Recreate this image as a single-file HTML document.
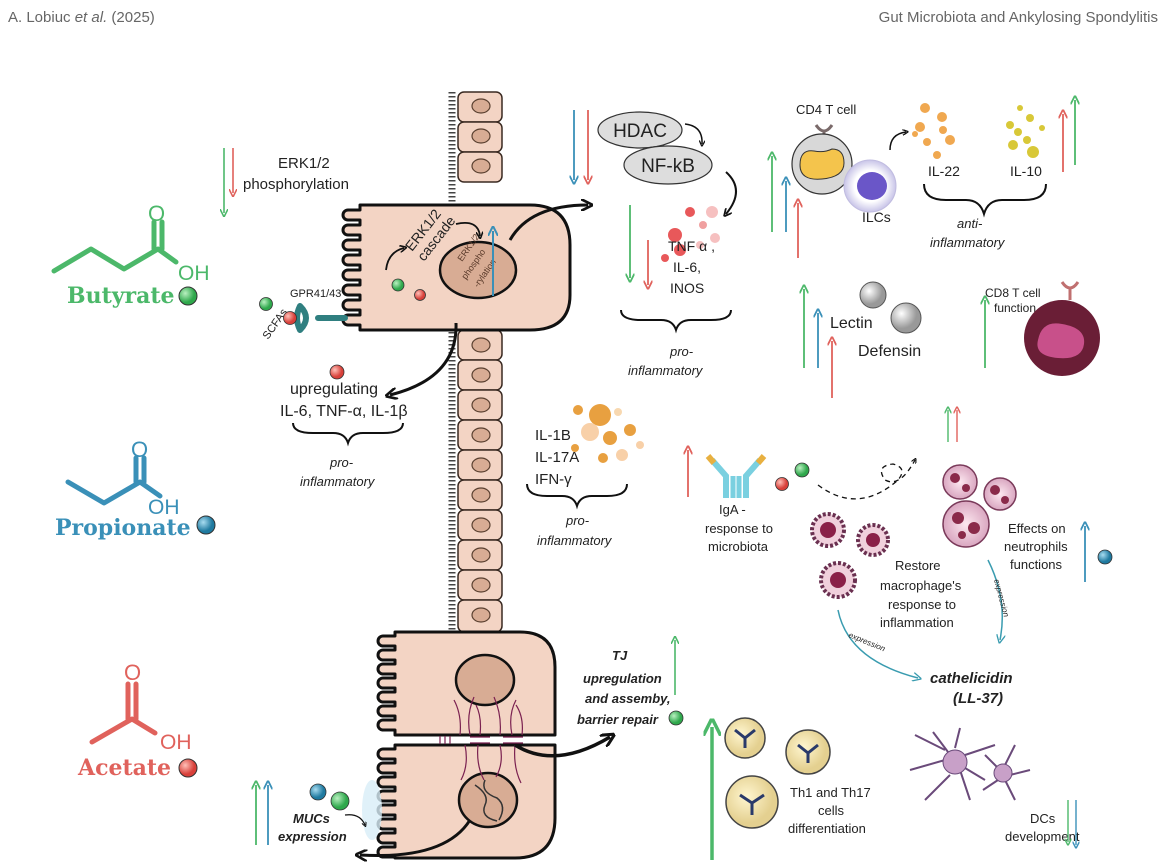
<!DOCTYPE html>
<html><head><meta charset="utf-8"><style>
html,body{margin:0;padding:0;background:#fff}
svg{display:block}
text{font-family:"Liberation Sans","DejaVu Sans",sans-serif;fill:#222}
.it{font-style:italic}
.bi{font-style:italic;font-weight:bold}
.mol{font-family:"DejaVu Serif","Liberation Serif",serif;font-weight:bold}
</style></head><body>
<svg width="1166" height="867" viewBox="0 0 1166 867" xmlns="http://www.w3.org/2000/svg">
<defs>
<marker id="ag" viewBox="0 0 10 10" refX="5" refY="5" markerWidth="5" markerHeight="5" orient="auto-start-reverse"><path d="M0,0 L10,5 L0,10" fill="none" stroke="#4cb86a" stroke-width="2"/></marker>
<marker id="ab" viewBox="0 0 10 10" refX="5" refY="5" markerWidth="5" markerHeight="5" orient="auto-start-reverse"><path d="M0,0 L10,5 L0,10" fill="none" stroke="#3a90b8" stroke-width="2"/></marker>
<marker id="ar" viewBox="0 0 10 10" refX="5" refY="5" markerWidth="5" markerHeight="5" orient="auto-start-reverse"><path d="M0,0 L10,5 L0,10" fill="none" stroke="#e0625c" stroke-width="2"/></marker>
<marker id="ak" viewBox="0 0 10 10" refX="6" refY="5" markerWidth="4" markerHeight="4" orient="auto"><path d="M0,0 L10,5 L0,10" fill="none" stroke="#111" stroke-width="2.2"/></marker>
<marker id="at" viewBox="0 0 10 10" refX="6" refY="5" markerWidth="6" markerHeight="6" orient="auto"><path d="M0,0 L10,5 L0,10" fill="none" stroke="#3a9cb0" stroke-width="1.5"/></marker>
<radialGradient id="gg" cx="35%" cy="35%"><stop offset="0" stop-color="#b9f0c0"/><stop offset="1" stop-color="#2fa84c"/></radialGradient>
<radialGradient id="gr" cx="35%" cy="35%"><stop offset="0" stop-color="#ffc0b8"/><stop offset="1" stop-color="#d8403a"/></radialGradient>
<radialGradient id="gb" cx="35%" cy="35%"><stop offset="0" stop-color="#a8dcf0"/><stop offset="1" stop-color="#1f7aa0"/></radialGradient>
<radialGradient id="gw" cx="35%" cy="35%"><stop offset="0" stop-color="#fff"/><stop offset="1" stop-color="#999"/></radialGradient>
<radialGradient id="gy" cx="40%" cy="40%"><stop offset="0" stop-color="#fff6d0"/><stop offset="1" stop-color="#e4d090"/></radialGradient>
<radialGradient id="gp" cx="50%" cy="50%"><stop offset="0" stop-color="#fde8f0"/><stop offset="1" stop-color="#d9a6c0"/></radialGradient>
<radialGradient id="gi" cx="50%" cy="50%"><stop offset="0.6" stop-color="#fff"/><stop offset="1" stop-color="#c8c4e8"/></radialGradient>
</defs>

<text x="8" y="22" font-size="15" style="fill:#666">A. Lobiuc <tspan class="it">et al.</tspan> (2025)</text>
<text x="1158" y="22" font-size="15" text-anchor="end" style="fill:#666">Gut Microbiota and Ankylosing Spondylitis</text>

<!-- epithelial column -->
<g>
<path d="M452,92 v540" stroke="#444" stroke-width="7" stroke-dasharray="1.5 2.5" fill="none"/>
<g fill="#f3d4c4" stroke="#3a2a22" stroke-width="1.5">
<rect x="458" y="92" width="44" height="30" rx="6"/><rect x="458" y="122" width="44" height="30" rx="6"/><rect x="458" y="152" width="44" height="30" rx="6"/>
<rect x="458" y="330" width="44" height="30" rx="6"/><rect x="458" y="360" width="44" height="30" rx="6"/><rect x="458" y="390" width="44" height="30" rx="6"/>
<rect x="458" y="420" width="44" height="30" rx="6"/><rect x="458" y="450" width="44" height="30" rx="6"/><rect x="458" y="480" width="44" height="30" rx="6"/>
<rect x="458" y="510" width="44" height="30" rx="6"/><rect x="458" y="540" width="44" height="30" rx="6"/><rect x="458" y="570" width="44" height="30" rx="6"/><rect x="458" y="600" width="44" height="32" rx="6"/>
</g>
<g fill="#d8ac94" stroke="#5a4030" stroke-width="1.2">
<ellipse cx="481" cy="106" rx="9" ry="7"/><ellipse cx="481" cy="136" rx="9" ry="7"/><ellipse cx="481" cy="166" rx="9" ry="7"/>
<ellipse cx="481" cy="345" rx="9" ry="7"/><ellipse cx="481" cy="375" rx="9" ry="7"/><ellipse cx="481" cy="405" rx="9" ry="7"/>
<ellipse cx="481" cy="435" rx="9" ry="7"/><ellipse cx="481" cy="465" rx="9" ry="7"/><ellipse cx="481" cy="495" rx="9" ry="7"/>
<ellipse cx="481" cy="525" rx="9" ry="7"/><ellipse cx="481" cy="555" rx="9" ry="7"/><ellipse cx="481" cy="585" rx="9" ry="7"/><ellipse cx="481" cy="615" rx="9" ry="7"/>
</g>
</g>

<!-- big cell -->
<path d="M360,205 H530 Q570,205 570,245 V295 Q570,330 530,330 H360 v-5
h-12 a5,5 0 0 1 0,-10 h12 v-5 h-12 a5,5 0 0 1 0,-10 h12 v-5 h-12 a5,5 0 0 1 0,-10 h12 v-5 h-12 a5,5 0 0 1 0,-10 h12 v-5
h-12 a5,5 0 0 1 0,-10 h12 v-5 h-12 a5,5 0 0 1 0,-10 h12 v-5 h-12 a5,5 0 0 1 0,-10 h12 v-5 h-12 a5,5 0 0 1 0,-10 h12 v-5 Z" fill="#f3d4c4" stroke="#111" stroke-width="3" stroke-linejoin="round"/>
<ellipse cx="478" cy="270" rx="38" ry="28" fill="#d8ac94" stroke="#111" stroke-width="2.5"/>
<text font-size="9" transform="translate(462,262) rotate(-55)" style="fill:#5a3a2a">ERK1/2</text>
<text font-size="9" transform="translate(466,280) rotate(-55)" style="fill:#5a3a2a">phospho</text>
<text font-size="9" transform="translate(478,288) rotate(-55)" style="fill:#5a3a2a">-rylation</text>
<line x1="493" y1="296" x2="493" y2="231" stroke="#3a90b8" stroke-width="2" marker-end="url(#ab)"/>
<text font-size="14" transform="translate(412,252) rotate(-52)">ERK1/2</text>
<text font-size="14" transform="translate(424,262) rotate(-52)">cascade</text>
<path d="M386,270 q2,-18 18,-22" fill="none" stroke="#111" stroke-width="1.8" marker-end="url(#ak)"/>
<path d="M456,224 q22,-5 24,12" fill="none" stroke="#111" stroke-width="1.8" marker-end="url(#ak)"/>
<circle cx="398" cy="285" r="6" fill="url(#gg)" stroke="#333" stroke-width="0.8"/>
<circle cx="420" cy="295" r="5.5" fill="url(#gr)" stroke="#333" stroke-width="0.8"/>
<path d="M510,240 q20,-35 78,-35" fill="none" stroke="#111" stroke-width="3" marker-end="url(#ak)"/>
<path d="M456,323 q2,55 -66,72" fill="none" stroke="#111" stroke-width="3" marker-end="url(#ak)"/>

<!-- receptor -->
<text x="290" y="297" font-size="11">GPR41/43</text>
<path d="M345,318 H318 M300,306 q12,12 0,24 M300,306 q-6,12 0,24" stroke="#2f7f80" stroke-width="6" fill="none" stroke-linecap="round"/>
<text font-size="11" transform="translate(268,340) rotate(-55)">SCFAs</text>
<circle cx="266" cy="304" r="6.5" fill="url(#gg)" stroke="#333" stroke-width="0.8"/>
<circle cx="290" cy="318" r="6.5" fill="url(#gr)" stroke="#333" stroke-width="0.8"/>

<!-- ERK1/2 phosphorylation -->
<line x1="224" y1="148" x2="224" y2="213" stroke="#4cb86a" stroke-width="1.6" marker-end="url(#ag)"/>
<line x1="233" y1="148" x2="233" y2="193" stroke="#e0625c" stroke-width="1.6" marker-end="url(#ar)"/>
<text x="278" y="168" font-size="15">ERK1/2</text>
<text x="243" y="189" font-size="15">phosphorylation</text>

<!-- Butyrate -->
<g stroke="#4cb86a" stroke-width="5" fill="none" stroke-linecap="round" stroke-linejoin="round">
<path d="M54,271 L91,249 L124,269 L158,249 L176,262"/>
<path d="M154,249 V222 M162,249 V222"/>
</g>
<text x="148" y="221" font-size="22" style="fill:#4cb86a">O</text>
<text x="178" y="280" font-size="21" style="fill:#4cb86a">OH</text>
<text x="67" y="303" font-size="22" class="mol" style="fill:#4cb86a">Butyrate</text>
<circle cx="188" cy="296" r="9" fill="url(#gg)" stroke="#333"/>

<!-- Propionate -->
<g stroke="#3a90b8" stroke-width="5" fill="none" stroke-linecap="round" stroke-linejoin="round">
<path d="M68,482 L104,503 L140,482 L160,496"/>
<path d="M136,482 V458 M144,482 V458"/>
</g>
<text x="131" y="457" font-size="22" style="fill:#3a90b8">O</text>
<text x="148" y="514" font-size="21" style="fill:#3a90b8">OH</text>
<text x="55" y="535" font-size="22" class="mol" style="fill:#3a90b8">Propionate</text>
<circle cx="206" cy="525" r="9" fill="url(#gb)" stroke="#333"/>

<!-- Acetate -->
<g stroke="#e0625c" stroke-width="5" fill="none" stroke-linecap="round" stroke-linejoin="round">
<path d="M92,742 L132,719 L155,733"/>
<path d="M128,719 V684 M136,719 V684"/>
</g>
<text x="124" y="680" font-size="22" style="fill:#e0625c">O</text>
<text x="160" y="749" font-size="21" style="fill:#e0625c">OH</text>
<text x="78" y="775" font-size="22" class="mol" style="fill:#e0625c">Acetate</text>
<circle cx="188" cy="768" r="9" fill="url(#gr)" stroke="#333"/>

<!-- upregulating -->
<circle cx="337" cy="372" r="7" fill="url(#gr)" stroke="#333" stroke-width="0.8"/>
<text x="290" y="394" font-size="16">upregulating</text>
<text x="280" y="416" font-size="16">IL-6, TNF-α, IL-1β</text>
<path d="M293,423 q0,10 20,10 h20 q12,0 15,10 q3,-10 15,-10 h20 q20,0 20,-10" fill="none" stroke="#111" stroke-width="2"/>
<text x="330" y="467" font-size="13" class="it">pro-</text>
<text x="300" y="486" font-size="13" class="it">inflammatory</text>

<!-- HDAC NF-kB -->
<line x1="574" y1="110" x2="574" y2="180" stroke="#3a90b8" stroke-width="1.8" marker-end="url(#ab)"/>
<line x1="588" y1="110" x2="588" y2="180" stroke="#e0625c" stroke-width="1.8" marker-end="url(#ar)"/>
<ellipse cx="640" cy="130" rx="42" ry="18" fill="#ddd" stroke="#333" stroke-width="1.2"/>
<text x="640" y="137" font-size="19" text-anchor="middle">HDAC</text>
<ellipse cx="668" cy="165" rx="44" ry="19" fill="#ddd" stroke="#333" stroke-width="1.2"/>
<text x="668" y="172" font-size="19" text-anchor="middle">NF-kB</text>
<path d="M685,124 q18,2 17,20" fill="none" stroke="#111" stroke-width="1.5" marker-end="url(#ak)"/>
<path d="M726,172 q20,18 0,42" fill="none" stroke="#111" stroke-width="2" marker-end="url(#ak)"/>
<g fill="#e8585a"><circle cx="690" cy="212" r="5"/><circle cx="675" cy="235" r="7"/><circle cx="703" cy="225" r="4" fill="#f0a0a0"/><circle cx="712" cy="212" r="6" fill="#f6c0c0"/><circle cx="680" cy="250" r="6"/><circle cx="700" cy="245" r="4" fill="#f6c0c0"/><circle cx="715" cy="238" r="5" fill="#f6c0c0"/><circle cx="665" cy="258" r="4"/></g>
<line x1="630" y1="205" x2="630" y2="278" stroke="#4cb86a" stroke-width="1.8" marker-end="url(#ag)"/>
<line x1="648" y1="240" x2="648" y2="285" stroke="#e0625c" stroke-width="1.8" marker-end="url(#ar)"/>
<text x="668" y="251" font-size="14">TNF α ,</text>
<text x="673" y="272" font-size="14">IL-6,</text>
<text x="670" y="293" font-size="14">INOS</text>
<path d="M621,310 q0,10 20,10 h20 q12,0 15,10 q3,-10 15,-10 h20 q20,0 20,-10" fill="none" stroke="#111" stroke-width="2"/>
<text x="670" y="356" font-size="13" class="it">pro-</text>
<text x="628" y="375" font-size="13" class="it">inflammatory</text>

<!-- CD4 / ILCs -->
<line x1="772" y1="232" x2="772" y2="156" stroke="#4cb86a" stroke-width="1.8" marker-end="url(#ag)"/>
<line x1="786" y1="232" x2="786" y2="181" stroke="#3a90b8" stroke-width="1.8" marker-end="url(#ab)"/>
<line x1="798" y1="258" x2="798" y2="203" stroke="#e0625c" stroke-width="1.8" marker-end="url(#ar)"/>
<text x="796" y="114" font-size="13">CD4 T cell</text>
<path d="M824,143 v-12 m-8,-6 q8,12 16,0" stroke="#7a6a6a" stroke-width="3" fill="none"/>
<circle cx="822" cy="164" r="30" fill="#d8d8d8" stroke="#333" stroke-width="1.2"/>
<path d="M800,165 q0,-16 14,-14 q10,2 18,-2 q12,0 12,14 q0,14 -22,16 q-22,2 -22,-14z" fill="#f4c44c" stroke="#333"/>
<circle cx="870" cy="186" r="26" fill="url(#gi)" stroke="#c0bce0"/>
<ellipse cx="872" cy="186" rx="15" ry="14" fill="#6a56c8"/>
<text x="862" y="222" font-size="14">ILCs</text>
<path d="M890,150 q0,-16 16,-18" fill="none" stroke="#111" stroke-width="1.5" marker-end="url(#ak)"/>
<g fill="#f0a850"><circle cx="925" cy="108" r="5"/><circle cx="942" cy="117" r="5"/><circle cx="920" cy="127" r="5"/><circle cx="943" cy="130" r="4"/><circle cx="915" cy="134" r="3"/><circle cx="927" cy="142" r="4"/><circle cx="950" cy="140" r="5"/><circle cx="937" cy="155" r="4"/></g>
<text x="928" y="176" font-size="14">IL-22</text>
<g fill="#d8c838"><circle cx="1020" cy="108" r="3"/><circle cx="1010" cy="125" r="4"/><circle cx="1030" cy="118" r="4"/><circle cx="1018" cy="132" r="4"/><circle cx="1042" cy="128" r="3"/><circle cx="1027" cy="140" r="4"/><circle cx="1013" cy="145" r="5"/><circle cx="1033" cy="152" r="6"/></g>
<text x="1010" y="176" font-size="14">IL-10</text>
<path d="M924,184 q0,16 22,16 h20 q14,0 18,14 q4,-14 18,-14 h22 q22,0 22,-16" fill="none" stroke="#111" stroke-width="2"/>
<text x="957" y="228" font-size="13" class="it">anti-</text>
<text x="930" y="247" font-size="13" class="it">inflammatory</text>
<line x1="1063" y1="172" x2="1063" y2="114" stroke="#e0625c" stroke-width="1.8" marker-end="url(#ar)"/>
<line x1="1075" y1="165" x2="1075" y2="100" stroke="#4cb86a" stroke-width="1.8" marker-end="url(#ag)"/>

<!-- Lectin Defensin -->
<line x1="804" y1="368" x2="804" y2="289" stroke="#4cb86a" stroke-width="1.8" marker-end="url(#ag)"/>
<line x1="818" y1="368" x2="818" y2="313" stroke="#3a90b8" stroke-width="1.8" marker-end="url(#ab)"/>
<line x1="832" y1="398" x2="832" y2="341" stroke="#e0625c" stroke-width="1.8" marker-end="url(#ar)"/>
<circle cx="873" cy="295" r="13" fill="url(#gw)" stroke="#555"/>
<circle cx="906" cy="318" r="15" fill="url(#gw)" stroke="#555"/>
<text x="830" y="328" font-size="16">Lectin</text>
<text x="858" y="356" font-size="16">Defensin</text>
<text x="985" y="297" font-size="12">CD8 T cell</text>
<text x="994" y="312" font-size="12">function</text>
<line x1="985" y1="368" x2="985" y2="300" stroke="#4cb86a" stroke-width="1.8" marker-end="url(#ag)"/>
<path d="M1070,300 v-12 m-8,-6 q8,12 16,0" stroke="#c07070" stroke-width="3" fill="none"/>
<circle cx="1062" cy="338" r="38" fill="#6a1e36"/>
<path d="M1038,340 q4,-20 24,-16 q24,4 22,20 q-2,16 -26,14 q-24,-2 -20,-18z" fill="#c8508a"/>

<!-- IL-1B -->
<g fill="#e8a040"><circle cx="600" cy="415" r="11"/><circle cx="578" cy="410" r="5"/><circle cx="618" cy="412" r="4" fill="#f8d8b0"/><circle cx="590" cy="432" r="9" fill="#f8d0a8"/><circle cx="610" cy="438" r="7"/><circle cx="630" cy="430" r="6"/><circle cx="622" cy="455" r="6" fill="#f8d0a8"/><circle cx="603" cy="458" r="5"/><circle cx="640" cy="445" r="4" fill="#f8d0a8"/><circle cx="575" cy="448" r="4"/></g>
<text x="535" y="440" font-size="15">IL-1B</text>
<text x="535" y="462" font-size="15">IL-17A</text>
<text x="535" y="484" font-size="15">IFN-γ</text>
<path d="M527,484 q0,12 20,12 h15 q12,0 15,10 q3,-10 15,-10 h15 q20,0 20,-12" fill="none" stroke="#111" stroke-width="2"/>
<text x="566" y="525" font-size="13" class="it">pro-</text>
<text x="537" y="545" font-size="13" class="it">inflammatory</text>

<!-- IgA -->
<line x1="688" y1="497" x2="688" y2="450" stroke="#e0625c" stroke-width="1.8" marker-end="url(#ar)"/>
<path d="M712,460 l14,16 v22 M760,460 l-14,16 v22" stroke="#7ad0e0" stroke-width="6" fill="none"/>
<path d="M708,456 l6,7 M764,456 l-6,7" stroke="#e8b040" stroke-width="6"/>
<path d="M733,476 v22 M739,476 v22" stroke="#7ad0e0" stroke-width="5"/>
<text x="719" y="514" font-size="13">IgA -</text>
<text x="705" y="533" font-size="13">response to</text>
<text x="708" y="551" font-size="13">microbiota</text>

<!-- dashed path -->
<circle cx="802" cy="470" r="7" fill="url(#gg)" stroke="#333" stroke-width="0.8"/>
<circle cx="782" cy="484" r="6.5" fill="url(#gr)" stroke="#333" stroke-width="0.8"/>
<path d="M818,485 q40,30 80,-5 q10,-12 -5,-16 q-18,2 -8,16 q15,8 30,-20" fill="none" stroke="#111" stroke-width="1.3" stroke-dasharray="5 4" marker-end="url(#ak)"/>
<line x1="948" y1="442" x2="948" y2="410" stroke="#4cb86a" stroke-width="1.4" marker-end="url(#ag)"/>
<line x1="957" y1="442" x2="957" y2="410" stroke="#e0625c" stroke-width="1.4" marker-end="url(#ar)"/>

<!-- neutrophils -->
<g stroke="#7a3a5a" stroke-width="1.5">
<circle cx="960" cy="482" r="17" fill="url(#gp)"/><circle cx="1000" cy="494" r="16" fill="url(#gp)"/><circle cx="966" cy="524" r="23" fill="url(#gp)"/>
</g>
<g fill="#8a2a4a"><circle cx="955" cy="478" r="5"/><circle cx="966" cy="488" r="4"/><circle cx="995" cy="490" r="5"/><circle cx="1005" cy="500" r="4"/><circle cx="958" cy="518" r="6"/><circle cx="974" cy="528" r="6"/><circle cx="962" cy="535" r="4"/></g>
<text x="1008" y="533" font-size="13">Effects on</text>
<text x="1004" y="551" font-size="13">neutrophils</text>
<text x="1010" y="569" font-size="13">functions</text>
<line x1="1085" y1="582" x2="1085" y2="526" stroke="#3a90b8" stroke-width="1.8" marker-end="url(#ab)"/>
<circle cx="1105" cy="557" r="7" fill="url(#gb)" stroke="#333" stroke-width="0.8"/>

<!-- macrophages -->
<g fill="#f0d0dc" stroke="#6a3050">
<circle cx="828" cy="530" r="16" stroke-dasharray="3 2" stroke-width="4"/><circle cx="873" cy="540" r="15" stroke-dasharray="3 2" stroke-width="4"/><circle cx="838" cy="580" r="17" stroke-dasharray="3 2" stroke-width="4"/>
</g>
<g fill="#8a2048"><circle cx="828" cy="530" r="8"/><circle cx="873" cy="540" r="7"/><circle cx="838" cy="580" r="8"/></g>
<text x="895" y="570" font-size="13">Restore</text>
<text x="880" y="590" font-size="13">macrophage's</text>
<text x="888" y="609" font-size="13">response to</text>
<text x="880" y="627" font-size="13">inflammation</text>
<path d="M838,610 q10,50 80,68" fill="none" stroke="#3a9cb0" stroke-width="1.5" marker-end="url(#at)"/>
<text font-size="8" class="it" transform="translate(848,637) rotate(22)">expression</text>
<path d="M988,560 q20,40 12,80" fill="none" stroke="#3a9cb0" stroke-width="1.5" marker-end="url(#at)"/>
<text font-size="8" class="it" transform="translate(994,580) rotate(75)">expression</text>
<text x="930" y="683" font-size="15" class="bi">cathelicidin</text>
<text x="953" y="703" font-size="15" class="bi">(LL-37)</text>

<!-- bottom cells -->
<path d="M395,632 H520 Q555,632 555,667 V735 H395 v-5
h-12 a5,5 0 0 1 0,-10 h12 v-4 h-12 a5,5 0 0 1 0,-10 h12 v-4 h-12 a5,5 0 0 1 0,-10 h12 v-4 h-12 a5,5 0 0 1 0,-10 h12 v-4
h-12 a5,5 0 0 1 0,-10 h12 v-4 h-12 a5,5 0 0 1 0,-10 h12 v-4 h-12 a5,5 0 0 1 0,-10 h12 v-4 Z" fill="#f3d4c4" stroke="#111" stroke-width="3" stroke-linejoin="round"/>
<path d="M395,745 H555 V818 Q555,858 515,858 H395 v-1
h-12 a5,5 0 0 1 0,-10 h12 v-4 h-12 a5,5 0 0 1 0,-10 h12 v-4 h-12 a5,5 0 0 1 0,-10 h12 v-4 h-12 a5,5 0 0 1 0,-10 h12 v-4
h-12 a5,5 0 0 1 0,-10 h12 v-4 h-12 a5,5 0 0 1 0,-10 h12 v-4 h-12 a5,5 0 0 1 0,-10 h12 v-4 h-12 a5,5 0 0 1 0,-10 h12 v-4 Z" fill="#f3d4c4" stroke="#111" stroke-width="3" stroke-linejoin="round"/>
<ellipse cx="485" cy="680" rx="29" ry="25" fill="#d8ac94" stroke="#111" stroke-width="2.5"/>
<ellipse cx="488" cy="800" rx="29" ry="27" fill="#d8ac94" stroke="#111" stroke-width="2.5"/>
<path d="M475,785 q15,10 10,20 q-5,12 12,16 M485,780 q-5,12 12,18 q10,8 2,22" stroke="#333" stroke-width="1.5" fill="none"/>
<g stroke="#7a2050" stroke-width="1.2" fill="none">
<path d="M460,735 q2,-20 -6,-35 M470,735 q-4,-20 4,-38 M480,735 q2,-18 -4,-30 M500,735 q2,-20 -6,-38 M512,735 q-4,-20 4,-35 M522,735 q2,-18 -6,-30 M465,745 q4,20 -4,35 M478,745 q-2,20 6,35 M500,745 q4,18 -4,32 M515,745 q-2,22 6,38"/>
<path d="M440,736 v8 M445,736 v8 M450,736 v8 M470,737 h20 M470,743 h20 M503,737 h20 M503,743 h20"/>
</g>
<path d="M515,745 q40,25 95,-8" fill="none" stroke="#111" stroke-width="3.5" marker-end="url(#ak)"/>
<path d="M470,820 q-25,40 -110,35" fill="none" stroke="#111" stroke-width="3" marker-end="url(#ak)"/>
<ellipse cx="372" cy="810" rx="10" ry="30" fill="#d8eef8" opacity="0.8"/>

<!-- TJ -->
<text x="612" y="660" font-size="13" class="bi">TJ</text>
<text x="583" y="683" font-size="13" class="bi">upregulation</text>
<text x="585" y="703" font-size="13" class="bi">and assemby,</text>
<text x="577" y="724" font-size="13" class="bi">barrier repair</text>
<line x1="675" y1="695" x2="675" y2="640" stroke="#4cb86a" stroke-width="1.6" marker-end="url(#ag)"/>
<circle cx="676" cy="718" r="7" fill="url(#gg)" stroke="#333" stroke-width="0.8"/>

<!-- MUCs -->
<line x1="256" y1="845" x2="256" y2="785" stroke="#4cb86a" stroke-width="1.8" marker-end="url(#ag)"/>
<line x1="268" y1="845" x2="268" y2="785" stroke="#3a90b8" stroke-width="1.8" marker-end="url(#ab)"/>
<circle cx="318" cy="792" r="8" fill="url(#gb)" stroke="#333" stroke-width="0.8"/>
<circle cx="340" cy="801" r="9" fill="url(#gg)" stroke="#333" stroke-width="0.8"/>
<path d="M345,815 q15,-2 20,10" fill="none" stroke="#111" stroke-width="1.2" marker-end="url(#ak)"/>
<text x="293" y="823" font-size="13" class="bi">MUCs</text>
<text x="278" y="841" font-size="13" class="bi">expression</text>

<!-- Th cells -->
<line x1="712" y1="860" x2="712" y2="727" stroke="#4cb86a" stroke-width="3.5" marker-end="url(#ag)"/>
<g stroke="#444" stroke-width="1.5" fill="url(#gy)">
<circle cx="745" cy="738" r="20"/><circle cx="808" cy="752" r="22"/><circle cx="752" cy="802" r="26"/>
</g>
<g stroke="#2a3a6a" stroke-width="3" fill="none"><path d="M735,730 l10,8 l10,-8 M745,738 v10 M798,745 l10,8 l10,-8 M808,753 v10 M740,795 l12,8 l12,-8 M752,803 v12"/></g>
<text x="790" y="797" font-size="13">Th1 and Th17</text>
<text x="818" y="815" font-size="13">cells</text>
<text x="788" y="833" font-size="13">differentiation</text>

<!-- DCs -->
<g stroke="#6a4a7a" stroke-width="2" fill="none">
<path d="M945,750 l-30,-15 M945,760 l-35,10 M950,775 l-25,25 M960,770 l10,30 M965,755 l30,-10 M955,748 l5,-20 M948,752 l-15,-20 M960,765 l25,15"/>
<path d="M1000,770 l-15,-15 M1005,765 l10,-20 M1010,775 l20,-5 M1005,780 l10,20 M998,780 l-15,10"/>
</g>
<circle cx="955" cy="762" r="12" fill="#c8a0c8" stroke="#6a4a7a"/>
<circle cx="1003" cy="773" r="9" fill="#c8a0c8" stroke="#6a4a7a"/>
<text x="1030" y="823" font-size="13">DCs</text>
<text x="1005" y="841" font-size="13">development</text>
<line x1="1068" y1="800" x2="1068" y2="842" stroke="#4cb86a" stroke-width="1.4" marker-end="url(#ag)"/>
<line x1="1076" y1="800" x2="1076" y2="845" stroke="#3a90b8" stroke-width="1.4" marker-end="url(#ab)"/>
</svg>
</body></html>
